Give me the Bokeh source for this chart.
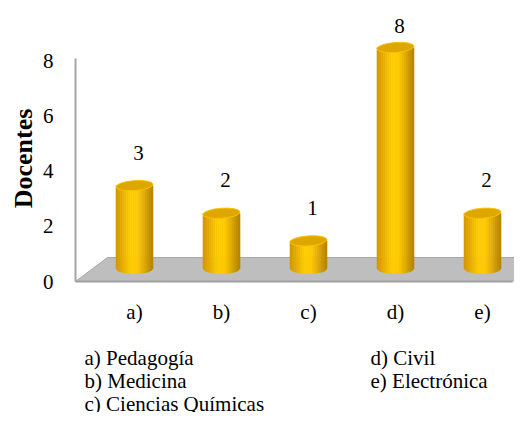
import math
from bokeh.plotting import figure
from bokeh.models import Range1d, ColumnDataSource
from bokeh.core.properties import value
from bokeh.embed import file_html
from bokeh.resources import INLINE

# ---- data ----
categories = ["a)", "b)", "c)", "d)", "e)"]
faculties = ["Pedagogía", "Medicina", "Ciencias Químicas", "Civil", "Electrónica"]
docentes = [3, 2, 1, 8, 2]
y_ticks = [0, 2, 4, 6, 8]
y_title = "Docentes"

# ---- layout constants (pixels) ----
W, H = 514, 412
X0_PX = 134        # figure x of first category centre
STEP_PX = 87       # pixels per category
Y0_PX = 281        # figure y (from top) of value 0
UNIT_PX = 27.625   # pixels per value unit
FONT = value("Liberation Serif")
SIZE = "21px"


def dx(px):
    return px / STEP_PX


def dy(px):
    return px / UNIT_PX


def fx(px):  # figure x pixel -> data x
    return (px - X0_PX) / STEP_PX


def fy(px):  # figure y pixel (from top) -> data y
    return (Y0_PX - px) / UNIT_PX


p = figure(width=W, height=H, output_backend="svg", toolbar_location=None,
           x_range=Range1d(fx(0), fx(W)), y_range=Range1d(fy(H), fy(0)),
           x_axis_location=None, y_axis_location=None, min_border=0,
           background_fill_color="white", border_fill_color="white")
p.outline_line_color = None
p.xgrid.visible = False
p.ygrid.visible = False

# ---- floor (3D base) ----
floor_l, floor_r = fx(75), fx(512)
depth, skew = dy(24), dx(32)
p.patch([floor_l, floor_r, floor_r + skew, floor_l + skew],
        [0, 0, depth, depth], fill_color="#BEBEBE", line_color="#A6A6A6",
        line_width=1)
p.line([floor_l, floor_r], [0, 0], line_color="#A0A0A0", line_width=2)

# ---- vertical axis wall line ----
p.line([floor_l, floor_l], [0, max(y_ticks) + dy(2)], line_color="#A6A6A6",
       line_width=2)

# axis title
p.text(x=[fx(23)], y=[fy(158)], text=[y_title], angle=math.pi / 2,
       text_align="center", text_baseline="middle", text_font=FONT,
       text_font_size="26px", text_font_style="bold", text_color="black")

# tick labels
p.text(x=[fx(53)] * len(y_ticks), y=y_ticks, text=[str(t) for t in y_ticks],
       text_align="right", text_baseline="middle", text_font=FONT,
       text_font_style="normal", text_font_size=SIZE, text_color="black")

# ---- cylinders ----
base = dy(13)
rad = dx(18.5)
ell_b = dy(5)
N = 18
stops = [(0.0, (212, 148, 0)), (0.4, (255, 204, 0)), (0.6, (255, 200, 0)),
         (1.0, (180, 130, 0))]


def shade(t):
    for (t0, c0), (t1, c1) in zip(stops[:-1], stops[1:]):
        if t0 <= t <= t1:
            f = (t - t0) / (t1 - t0)
            return "#%02x%02x%02x" % tuple(int(round(a + (b - a) * f)) for a, b in zip(c0, c1))
    return "#%02x%02x%02x" % stops[-1][1]


xs, ys, cols = [], [], []
for i, v in enumerate(docentes):
    top = base + v
    for k in range(N):
        s0 = -1 + 2 * k / N
        s1 = -1 + 2 * (k + 1) / N
        xl, xr = i + s0 * rad, i + s1 * rad
        bl = base - ell_b * math.sqrt(max(0.0, 1 - s0 * s0))
        br = base - ell_b * math.sqrt(max(0.0, 1 - s1 * s1))
        xs.append([xl, xr, xr, xl])
        ys.append([bl, br, top, top])
        cols.append(shade((k + 0.5) / N))
p.patches(xs, ys, fill_color=cols, line_color=cols, line_width=0.6)

tops = ColumnDataSource(dict(x=list(range(len(docentes))),
                             y=[base + v for v in docentes]))
p.ellipse(x="x", y="y", width=37, height=10, width_units="screen",
          height_units="screen", angle=0.07, source=tops,
          fill_color="#DFA600", line_color="#F6C400", line_width=1)

# data labels (centre of text ~33px above cylinder top)
ceiling = fy(25)
p.text(x=[i + dx(4) for i in range(len(docentes))],
       y=[min(base + v + dy(33), ceiling) for v in docentes],
       text=[str(v) for v in docentes], text_align="center",
       text_baseline="middle", text_font=FONT, text_font_style="normal",
       text_font_size=SIZE, text_color="black")

# category labels
p.text(x=list(range(len(categories))), y=[fy(311)] * len(categories),
       text=categories, text_align="center", text_baseline="middle",
       text_font=FONT, text_font_style="normal", text_font_size=SIZE,
       text_color="black")

# legend text (two columns)
col_x = [fx(84), fx(370)]
row_y0, row_step = 357, 23
lx, ly, lt = [], [], []
for i, (c, name) in enumerate(zip(categories, faculties)):
    lx.append(col_x[i // 3])
    ly.append(fy(row_y0 + row_step * (i % 3)))
    lt.append(f"{c} {name}")
p.text(x=lx, y=ly, text=lt, text_baseline="middle", text_font=FONT,
       text_font_style="normal", text_font_size=SIZE, text_color="black")

open("out.html", "w").write(file_html(p, INLINE))
